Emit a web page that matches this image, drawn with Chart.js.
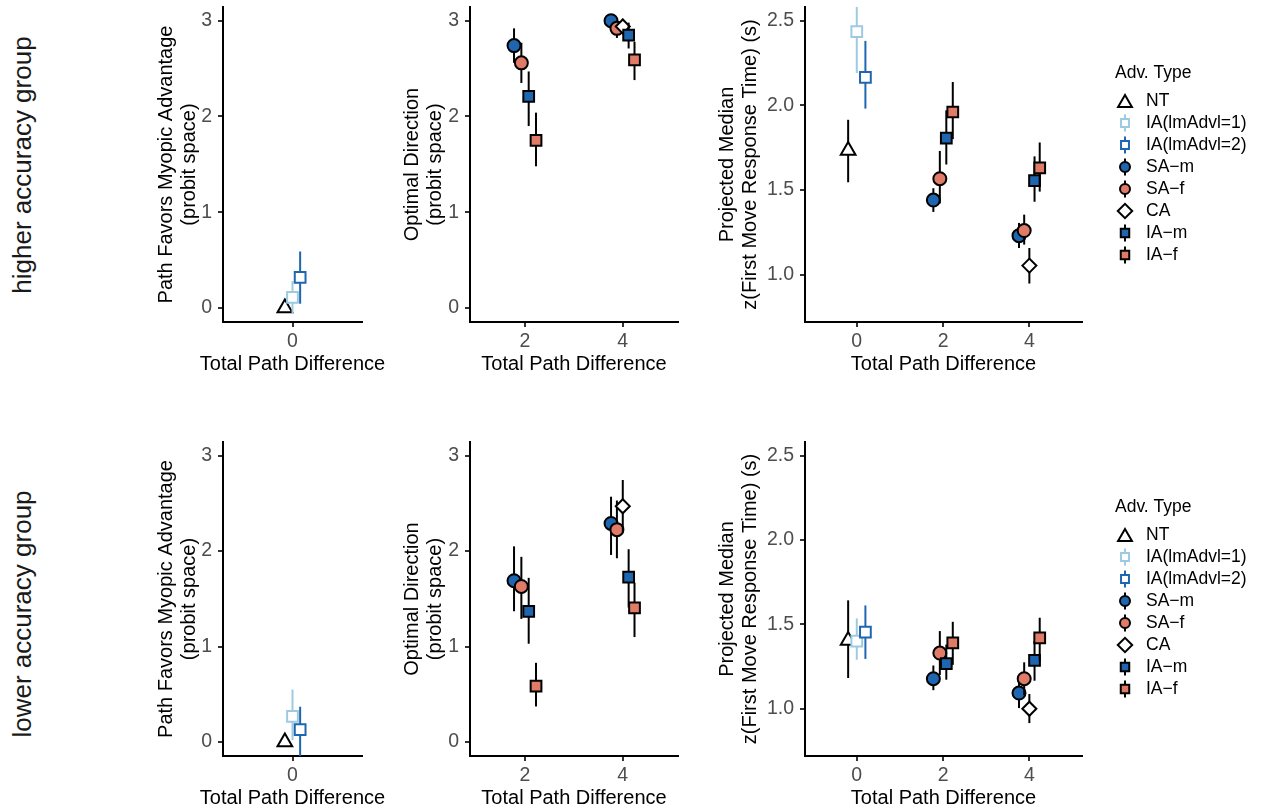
<!DOCTYPE html>
<html>
<head>
<meta charset="utf-8">
<script src="https://cdn.jsdelivr.net/npm/chart.js@4.4.1/dist/chart.umd.min.js"></script>
<style>
  html, body { margin: 0; padding: 0; background: #fff; }
  body { width: 1264px; height: 812px; position: relative; overflow: hidden; font-family: "Liberation Sans", Arial, sans-serif; }
  canvas { position: absolute; }
  .row-label { position: absolute; width: 320px; height: 30px; line-height: 30px; text-align: center; font-size: 26px; color: #1a1a1a; transform: rotate(-90deg); white-space: nowrap; }
</style>
</head>
<body>
<div class="row-label" style="left:-138px;top:150px">higher accuracy group</div>
<div class="row-label" style="left:-138px;top:599px">lower accuracy group</div>
<canvas id="hi-myopic"></canvas>
<canvas id="hi-optimal"></canvas>
<canvas id="hi-rt"></canvas>
<canvas id="lo-myopic"></canvas>
<canvas id="lo-optimal"></canvas>
<canvas id="lo-rt"></canvas>
<script>
// legend order of advisor types
const advTypes = ['NT', 'IA(lmAdvl=1)', 'IA(lmAdvl=2)', 'SA−m', 'SA−f', 'CA', 'IA−m', 'IA−f'];

// tick labels
const xTicksMyopic = [0];
const xTicksOptimal = [2, 4];
const xTicksRt = [0, 2, 4];
const yTicksProbit = [0, 1, 2, 3];
const yTicksRt = [1.0, 1.5, 2.0, 2.5];

// rows: [type, total path difference, estimate, lower, upper]
const hiMyopic = [
  ['NT', 0, 0.00, -0.02, 0.02],
  ['IA(lmAdvl=1)', 0, 0.11, -0.06, 0.28],
  ['IA(lmAdvl=2)', 0, 0.32, 0.045, 0.59]
];
const hiOptimal = [
  ['SA−m', 2, 2.74, 2.56, 2.92],
  ['SA−f', 2, 2.56, 2.35, 2.77],
  ['IA−m', 2, 2.21, 1.90, 2.47],
  ['IA−f', 2, 1.75, 1.48, 2.04],
  ['SA−m', 4, 3.00, 2.95, 3.05],
  ['SA−f', 4, 2.92, 2.82, 3.00],
  ['CA', 4, 2.94, 2.86, 3.02],
  ['IA−m', 4, 2.85, 2.71, 2.98],
  ['IA−f', 4, 2.59, 2.38, 2.78]
];
const hiRt = [
  ['NT', 0, 1.733, 1.545, 1.914],
  ['IA(lmAdvl=1)', 0, 2.435, 2.19, 2.66],
  ['IA(lmAdvl=2)', 0, 2.164, 1.98, 2.38],
  ['SA−m', 2, 1.44, 1.37, 1.51],
  ['SA−f', 2, 1.566, 1.42, 1.73],
  ['IA−m', 2, 1.806, 1.65, 1.97],
  ['IA−f', 2, 1.96, 1.80, 2.137],
  ['SA−m', 4, 1.23, 1.157, 1.305],
  ['SA−f', 4, 1.26, 1.177, 1.354],
  ['CA', 4, 1.053, 0.947, 1.157],
  ['IA−m', 4, 1.555, 1.43, 1.698],
  ['IA−f', 4, 1.63, 1.49, 1.78]
];
const loMyopic = [
  ['NT', 0, 0.00, -0.02, 0.02],
  ['IA(lmAdvl=1)', 0, 0.27, 0.02, 0.55],
  ['IA(lmAdvl=2)', 0, 0.13, -0.2, 0.37]
];
const loOptimal = [
  ['SA−m', 2, 1.69, 1.37, 2.05],
  ['SA−f', 2, 1.63, 1.29, 1.94],
  ['IA−m', 2, 1.37, 1.03, 1.72],
  ['IA−f', 2, 0.586, 0.373, 0.83],
  ['SA−m', 4, 2.29, 1.96, 2.57],
  ['SA−f', 4, 2.225, 1.925, 2.53],
  ['CA', 4, 2.47, 2.2, 2.745],
  ['IA−m', 4, 1.727, 1.41, 2.02],
  ['IA−f', 4, 1.406, 1.10, 1.67]
];
const loRt = [
  ['NT', 0, 1.404, 1.182, 1.642],
  ['IA(lmAdvl=1)', 0, 1.40, 1.29, 1.535],
  ['IA(lmAdvl=2)', 0, 1.454, 1.295, 1.612],
  ['SA−m', 2, 1.178, 1.11, 1.256],
  ['SA−f', 2, 1.33, 1.20, 1.46],
  ['IA−m', 2, 1.267, 1.172, 1.38],
  ['IA−f', 2, 1.39, 1.26, 1.515],
  ['SA−m', 4, 1.093, 1.004, 1.18],
  ['SA−f', 4, 1.178, 1.08, 1.275],
  ['CA', 4, 1.0, 0.915, 1.087],
  ['IA−m', 4, 1.287, 1.166, 1.40],
  ['IA−f', 4, 1.42, 1.28, 1.539]
];

const BLUE = '#1F66B0';
const LIGHT = '#9ECAE1';
const SALMON = '#E07B67';
const styles = {
  'NT':           { shape: 'triangle', r: 8.5, fill: '#fff', line: '#000', bar: '#000', legendBar: false, lr: 8 },
  'IA(lmAdvl=1)': { shape: 'rect',     r: 7.6, fill: '#fff', line: LIGHT,  bar: LIGHT,  legendBar: true,  lr: 5.6 },
  'IA(lmAdvl=2)': { shape: 'rect',     r: 7.6, fill: '#fff', line: BLUE,   bar: BLUE,   legendBar: true,  lr: 5.6 },
  'SA−m':         { shape: 'circle',   r: 6.5, fill: BLUE,   line: '#000', bar: '#000', legendBar: true,  lr: 5 },
  'SA−f':         { shape: 'circle',   r: 6.5, fill: SALMON, line: '#000', bar: '#000', legendBar: true,  lr: 5 },
  'CA':           { shape: 'rectRot',  r: 7,   fill: '#fff', line: '#000', bar: '#000', legendBar: false, lr: 7.2 },
  'IA−m':         { shape: 'rect',     r: 7.6, fill: BLUE,   line: '#000', bar: '#000', legendBar: true,  lr: 6 },
  'IA−f':         { shape: 'rect',     r: 7.6, fill: SALMON, line: '#000', bar: '#000', legendBar: true,  lr: 6 }
};

const dodgeWidth = 0.6;
const FONT = '"Liberation Sans", Arial, sans-serif';
const X_TITLE = 'Total Path Difference';
Chart.defaults.font.family = FONT;

function dodged(rows) {
  return rows.map((r) => {
    const group = rows.filter((o) => o[1] === r[1]);
    const n = group.length;
    const i = group.indexOf(r);
    return r[1] + (i - (n - 1) / 2) * dodgeWidth / n;
  });
}

function buildDatasets(rows) {
  const xs = dodged(rows);
  const sets = [];
  advTypes.forEach((type, ti) => {
    const idx = rows.map((r, i) => (r[0] === type ? i : -1)).filter((i) => i >= 0);
    if (!idx.length) return;
    const s = styles[type];
    sets.push({
      label: type,
      order: -ti,
      data: idx.map((i) => ({ x: xs[i], y: rows[i][2] })),
      bars: idx.map((i) => ({ x: xs[i], lo: rows[i][3], hi: rows[i][4] })),
      barColor: s.bar,
      showLine: false,
      pointStyle: s.shape,
      pointRadius: s.r,
      pointHoverRadius: s.r,
      pointBorderWidth: 2,
      pointBackgroundColor: s.fill,
      pointBorderColor: s.line
    });
  });
  return sets;
}

const errorBars = {
  id: 'errorBars',
  beforeDatasetDraw(chart, args) {
    const ds = chart.data.datasets[args.index];
    const { ctx, chartArea: a, scales } = chart;
    ctx.save();
    ctx.beginPath();
    ctx.rect(a.left, a.top, a.right - a.left, a.bottom - a.top);
    ctx.clip();
    ctx.strokeStyle = ds.barColor;
    ctx.lineWidth = 2;
    ds.bars.forEach((b) => {
      const px = scales.x.getPixelForValue(b.x);
      ctx.beginPath();
      ctx.moveTo(px, scales.y.getPixelForValue(b.lo));
      ctx.lineTo(px, scales.y.getPixelForValue(b.hi));
      ctx.stroke();
    });
    ctx.restore();
  }
};

// x title drawn by hand where the panel is narrower than the text
const wideXTitle = {
  id: 'wideXTitle',
  afterDraw(chart, args, opts) {
    if (!opts || !opts.show) return;
    const { ctx, chartArea: a } = chart;
    ctx.save();
    ctx.fillStyle = '#000';
    ctx.font = '20px ' + FONT;
    ctx.textAlign = 'center';
    ctx.textBaseline = 'middle';
    ctx.fillText(X_TITLE, (a.left + a.right) / 2, chart.height - 11.5);
    ctx.restore();
  }
};

function drawShape(ctx, shape, r, x, y) {
  if (Chart.helpers && Chart.helpers.drawPoint) {
    Chart.helpers.drawPoint(ctx, { pointStyle: shape, radius: r, borderWidth: 2, rotation: 0 }, x, y);
    return;
  }
  ctx.beginPath();
  if (shape === 'circle') ctx.arc(x, y, r, 0, Math.PI * 2);
  else if (shape === 'rect') { const h = r * Math.SQRT1_2; ctx.rect(x - h, y - h, 2 * h, 2 * h); }
  else if (shape === 'rectRot') { ctx.moveTo(x - r, y); ctx.lineTo(x, y - r); ctx.lineTo(x + r, y); ctx.lineTo(x, y + r); ctx.closePath(); }
  else { ctx.moveTo(x, y - r); ctx.lineTo(x + r * 0.866, y + r / 2); ctx.lineTo(x - r * 0.866, y + r / 2); ctx.closePath(); }
  ctx.fill();
  ctx.stroke();
}

const advLegend = {
  id: 'advLegend',
  afterDraw(chart, args, opts) {
    if (!opts || !opts.show) return;
    const ctx = chart.ctx;
    ctx.save();
    ctx.fillStyle = '#000';
    ctx.font = '17.5px ' + FONT;
    ctx.textBaseline = 'middle';
    ctx.textAlign = 'left';
    ctx.fillText('Adv. Type', opts.titleX, opts.titleY);
    advTypes.forEach((type, i) => {
      const s = styles[type];
      const y = opts.itemY + i * opts.step;
      if (s.legendBar) {
        ctx.strokeStyle = s.bar;
        ctx.lineWidth = 2;
        ctx.beginPath();
        ctx.moveTo(opts.symX, y - 8.5);
        ctx.lineTo(opts.symX, y + 8.5);
        ctx.stroke();
      }
      ctx.fillStyle = s.fill;
      ctx.strokeStyle = s.line;
      ctx.lineWidth = 2;
      drawShape(ctx, s.shape, s.lr, opts.symX, y + (s.shape === 'triangle' ? 2 : 0));
      ctx.fillStyle = '#000';
      ctx.fillText(type, opts.labelX, y);
    });
    ctx.restore();
  }
};

function makePanel(id, rows, p) {
  const canvas = document.getElementById(id);
  const width = p.yW + p.plotW + p.padRight;
  const height = p.padTop + p.plotH + p.xH;
  canvas.width = width;
  canvas.height = height;
  canvas.style.left = p.left + 'px';
  canvas.style.top = p.top + 'px';
  canvas.style.width = width + 'px';
  canvas.style.height = height + 'px';

  const tickGrid = { display: true, drawOnChartArea: false, drawTicks: true, tickLength: 5, lineWidth: 2, color: '#333' };
  const border = { display: true, color: '#000', width: 2 };
  const titleFont = { size: 20, lineHeight: 1.15 };

  return new Chart(canvas, {
    type: 'scatter',
    data: { datasets: buildDatasets(rows) },
    plugins: [errorBars, advLegend, wideXTitle],
    options: {
      responsive: false,
      animation: false,
      events: [],
      layout: { autoPadding: false, padding: { top: p.padTop, right: p.padRight, left: 0, bottom: 0 } },
      scales: {
        x: {
          type: 'linear',
          min: p.xMin,
          max: p.xMax,
          afterBuildTicks: (scale) => { scale.ticks = p.xTicks.map((v) => ({ value: v })); },
          afterFit: (scale) => {
            scale.height = p.xH;
            scale.paddingLeft = 0;
            scale.paddingRight = 0;
          },
          grid: tickGrid,
          border: border,
          ticks: { color: '#4d4d4d', font: { size: 19.5 }, padding: 3, autoSkip: false, maxRotation: 0, callback: (v) => String(v) },
          title: { display: !p.handXTitle, text: X_TITLE, color: '#000', font: titleFont, padding: 0 }
        },
        y: {
          type: 'linear',
          min: p.yMin,
          max: p.yMax,
          afterBuildTicks: (scale) => { scale.ticks = p.yTicks.map((v) => ({ value: v })); },
          afterFit: (scale) => {
            scale.width = p.yW;
            scale.paddingTop = 0;
            scale.paddingBottom = 0;
          },
          grid: tickGrid,
          border: border,
          ticks: { color: '#4d4d4d', font: { size: 19.5 }, padding: 6, autoSkip: false, callback: (v) => (p.yDigits ? v.toFixed(p.yDigits) : String(v)) },
          title: { display: true, text: p.yTitle, color: '#000', font: titleFont, padding: 0 }
        }
      },
      plugins: {
        legend: { display: false },
        tooltip: { enabled: false },
        advLegend: p.legend || { show: false },
        wideXTitle: { show: !!p.handXTitle }
      }
    }
  });
}

const rowTop = { top: 0, padTop: 7, plotH: 315, xH: 54 };
const rowBottom = { top: 430, padTop: 12, plotH: 314, xH: 54 };
const colMyopic = { left: 155, yW: 68, plotW: 139, padRight: 30, xMin: -1.82, xMax: 1.82, xTicks: xTicksMyopic, handXTitle: true,
  yMin: -0.146, yMax: 3.143, yTicks: yTicksProbit, yDigits: 0, yTitle: ['Path Favors Myopic Advantage', '(probit space)'] };
const colOptimal = { left: 401, yW: 69, plotW: 208, padRight: 8, xMin: 0.874, xMax: 5.13, xTicks: xTicksOptimal,
  yMin: -0.146, yMax: 3.143, yTicks: yTicksProbit, yDigits: 0, yTitle: ['Optimal Direction', '(probit space)'] };
const colRt = { left: 716, yW: 89, plotW: 277, padRight: 182, xMin: -1.2, xMax: 5.22, xTicks: xTicksRt,
  yMin: 0.72, yMax: 2.58, yTicks: yTicksRt, yDigits: 1, yTitle: ['Projected Median', 'z(First Move Response Time) (s)'] };

function legendFor(row, titleAbsY, itemAbsY) {
  return { show: true, titleX: 1115 - colRt.left, titleY: titleAbsY - row.top, symX: 1125 - colRt.left,
    labelX: 1146 - colRt.left, itemY: itemAbsY - row.top, step: 22 };
}

makePanel('hi-myopic', hiMyopic, Object.assign({}, rowTop, colMyopic));
makePanel('hi-optimal', hiOptimal, Object.assign({}, rowTop, colOptimal));
makePanel('hi-rt', hiRt, Object.assign({}, rowTop, colRt, { legend: legendFor(rowTop, 73, 101) }));
makePanel('lo-myopic', loMyopic, Object.assign({}, rowBottom, colMyopic));
makePanel('lo-optimal', loOptimal, Object.assign({}, rowBottom, colOptimal));
makePanel('lo-rt', loRt, Object.assign({}, rowBottom, colRt, { legend: legendFor(rowBottom, 507, 535) }));
</script>
</body>
</html>
